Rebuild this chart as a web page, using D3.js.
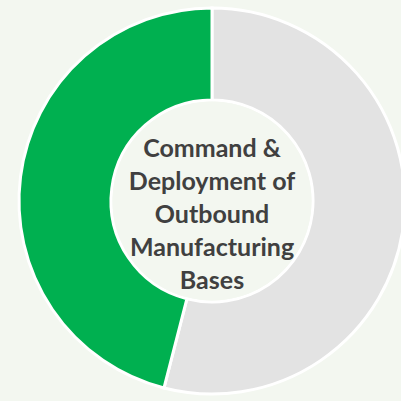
<!DOCTYPE html>
<html>
<head>
<meta charset="utf-8">
<script src="https://cdn.jsdelivr.net/npm/d3@7"></script>
<style>
  html, body { margin: 0; padding: 0; background: #f3f7f0; }
  svg { display: block; }
</style>
</head>
<body>
<svg id="chart" width="401" height="401"></svg>
<script>
// Share of the segment (remaining vs. covered), drawn clockwise from 12 o'clock
const segments = ["Other", "Command & Deployment"];
const shares = [54, 46];
const colors = ["#e3e3e3", "#00b050"];
const centerLines = ["Command &", "Deployment of", "Outbound", "Manufacturing", "Bases"];

const svg = d3.select("#chart");
const cx = 212, cy = 201;
const outerR = 193, innerR = 101;

const g = svg.append("g").attr("transform", `translate(${cx},${cy})`);

const pie = d3.pie().sort(null).value(d => d.value);
const arc = d3.arc().innerRadius(innerR).outerRadius(outerR);

const data = segments.map((s, i) => ({ name: s, value: shares[i] }));

g.selectAll("path.slice")
  .data(pie(data))
  .join("path")
  .attr("class", "slice")
  .attr("d", arc)
  .attr("fill", (d, i) => colors[i])
  .attr("stroke", "#ffffff")
  .attr("stroke-width", 3)
  .attr("stroke-linejoin", "miter");

// Center disc
g.append("circle")
  .attr("r", innerR - 1.5)
  .attr("fill", "#f3f7f0");

// Center label, sitting slightly below the ring's center
const lineH = 33;
const labelOffset = 13;
const text = g.append("text")
  .attr("text-anchor", "middle")
  .attr("font-family", "Lato, 'Open Sans', sans-serif")
  .attr("font-weight", "bold")
  .attr("font-size", 25)
  .attr("fill", "#404040");

centerLines.forEach((line, i) => {
  text.append("tspan")
    .attr("x", 0)
    .attr("y", labelOffset + (i - (centerLines.length - 1) / 2) * lineH)
    .attr("dy", "0.35em")
    .text(line);
});
</script>
</body>
</html>
